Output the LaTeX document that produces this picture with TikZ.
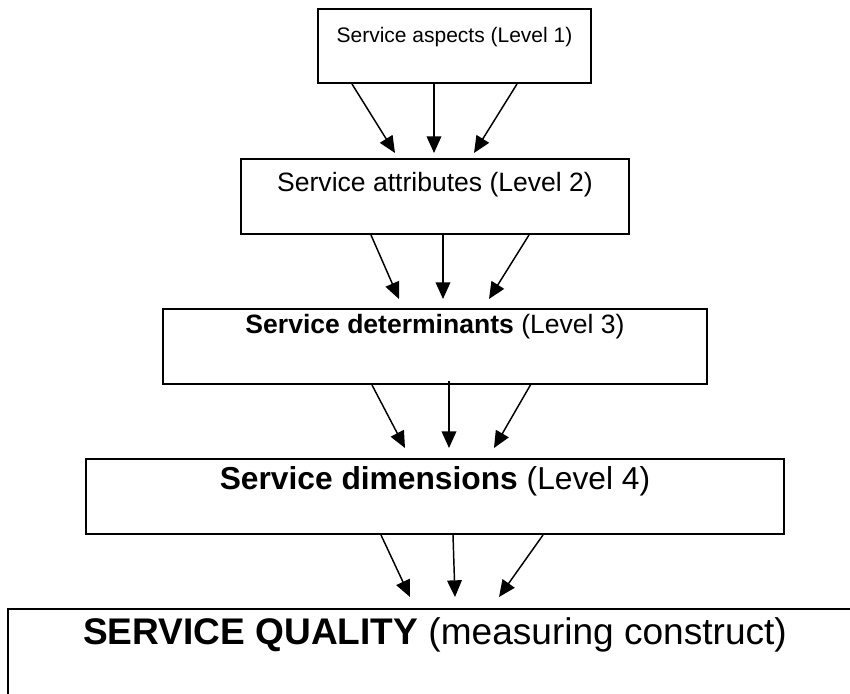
\documentclass[tikz,border=0pt]{standalone}
\usepackage{fontspec}
\setmainfont{Liberation Sans}
\usetikzlibrary{arrows.meta,calc}
\begin{document}
\begin{tikzpicture}[x=0.75pt,y=-0.75pt,
  box/.style={draw=black,line width=1.5pt,rectangle,inner sep=0pt,fill=none},
  lbl/.style={anchor=base,inner sep=0pt,text=black},
  arr/.style={line width=1.1pt,-{Triangle[length=12.5pt,width=11pt]}}]
\useasboundingbox (0,0) rectangle (850,693);
\clip (0,0) rectangle (850,693);
% boxes
\node[box,minimum width=273*0.75pt,minimum height=74*0.75pt] (b1) at (454.5,46) {};
\node[box,minimum width=388*0.75pt,minimum height=75*0.75pt] (b2) at (435,196.5) {};
\node[box,minimum width=544*0.75pt,minimum height=75*0.75pt] (b3) at (435,346.5) {};
\node[box,minimum width=698*0.75pt,minimum height=75*0.75pt] (b4) at (435,496.5) {};
\node[box,minimum width=854*0.75pt,minimum height=100*0.75pt] (b5) at (435,659) {};
% labels
\node[lbl,font=\fontsize{15.75pt}{18pt}\selectfont] (t1) at (454.5,42) {Service aspects (Level 1)};
\node[lbl,font=\fontsize{19.9pt}{23pt}\selectfont] (t2) at (435,191) {Service attributes (Level 2)};
\node[lbl,font=\fontsize{19.9pt}{23pt}\selectfont] (t3) at (435,333) {\textbf{Service determinants} (Level 3)};
\node[lbl,font=\fontsize{23.8pt}{27pt}\selectfont] (t4) at (435,489) {\textbf{Service dimensions} (Level 4)};
\node[lbl,font=\fontsize{27.8pt}{32pt}\selectfont] (t5) at (435,644) {\textbf{SERVICE QUALITY} (measuring construct)};
% arrows level 1 -> 2
\draw[arr] ($(b1.south)+(-102.5,0)$) -- ($(b2.north)+(-40,-5)$);
\draw[arr] ($(b1.south)+(-20.5,0)$) -- ($(b2.north)+(-1,-5)$);
\draw[arr] ($(b1.south)+(62.5,0)$) -- ($(b2.north)+(39,-5)$);
% arrows level 2 -> 3
\draw[arr] ($(b2.south)+(-64,0)$) -- ($(b3.north)+(-36,-9)$);
\draw[arr] ($(b2.south)+(8,0)$) -- ($(b3.north)+(8,-9)$);
\draw[arr] ($(b2.south)+(94,0)$) -- ($(b3.north)+(54,-9)$);
% arrows level 3 -> 4
\draw[arr] ($(b3.south)+(-63,0)$) -- ($(b4.north)+(-30,-10)$);
\draw[arr] ($(b3.south)+(14,-4)$) -- ($(b4.north)+(14,-10)$);
\draw[arr] ($(b3.south)+(96,-1)$) -- ($(b4.north)+(59,-10)$);
% arrows level 4 -> 5
\draw[arr] ($(b4.south)+(-54,0)$) -- ($(b5.north)+(-25,-11)$);
\draw[arr] ($(b4.south)+(18,0)$) -- ($(b5.north)+(20,-11)$);
\draw[arr] ($(b4.south)+(108,0)$) -- ($(b5.north)+(64,-11)$);
\end{tikzpicture}
\end{document}
